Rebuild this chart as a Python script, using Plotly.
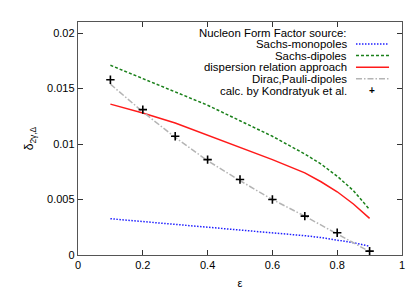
import plotly.graph_objects as go

eps = [0.1, 0.2, 0.3, 0.4, 0.5, 0.6, 0.7, 0.75, 0.8, 0.85, 0.9]
sachs_monopoles = [0.00327, 0.00302, 0.00276, 0.00249, 0.00223, 0.00198, 0.00174, 0.00157, 0.00137, 0.00111, 0.00079]
sachs_dipoles = [0.0171, 0.0159, 0.0147, 0.0135, 0.0121, 0.0107, 0.0091, 0.0082, 0.0071, 0.0058, 0.0041]
dispersion = [0.0136, 0.0128, 0.0119, 0.0108, 0.0097, 0.0086, 0.0074, 0.0066, 0.0057, 0.0046, 0.0033]
dirac_pauli = [0.0154, 0.0129, 0.0106, 0.0085, 0.0067, 0.0050, 0.0035, 0.0027, 0.0019, 0.0011, 0.0003]

kond_eps = [0.1, 0.2, 0.3, 0.4, 0.5, 0.6, 0.7, 0.8, 0.9]
kondratyuk = [0.0158, 0.0131, 0.0107, 0.0086, 0.0068, 0.0050, 0.0035, 0.0020, 0.00035]

legend_title = "Nucleon Form Factor source:"
labels = ["Sachs-monopoles", "Sachs-dipoles", "dispersion relation approach",
          "Dirac,Pauli-dipoles", "calc. by Kondratyuk et al."]
colors = ["#2020ff", "#1a801a", "#ff1a1a", "#b4b4b4", "#000000"]
dashes = ["1.5px,1.5px", "3px,2px", "solid", "6px,2px,1.5px,2px", None]

x_ticks = [0, 0.2, 0.4, 0.6, 0.8, 1]
x_tick_text = ["0", "0.2", "0.4", "0.6", "0.8", "1"]
y_ticks = [0, 0.005, 0.01, 0.015, 0.02]
y_tick_text = ["0", "0.005", "0.01", "0.015", "0.02"]

FONT = "Liberation Sans, Arial, sans-serif"

fig = go.Figure()
series = [sachs_monopoles, sachs_dipoles, dispersion, dirac_pauli]
for vals, lab, col, d in zip(series, labels[:4], colors[:4], dashes[:4]):
    fig.add_trace(go.Scatter(x=eps, y=vals, mode="lines", name=lab,
                             line=dict(color=col, width=1.5, dash=d)))
fig.add_trace(go.Scatter(x=kond_eps, y=kondratyuk, mode="markers", name=labels[4],
                         marker=dict(symbol="cross-thin", size=6, color="black",
                                     line=dict(color="black", width=1.6))))

# custom gnuplot-style legend (text right-aligned, sample on the right)
row_y = [0.954, 0.906, 0.856, 0.806, 0.756, 0.706]
text_x = 0.835
ann = [dict(x=text_x, y=row_y[0], xref="paper", yref="paper", text=legend_title,
            showarrow=False, xanchor="right", yanchor="middle",
            font=dict(size=11.4, family=FONT, color="black"))]
shapes = []
for i, lab in enumerate(labels):
    ann.append(dict(x=text_x, y=row_y[i + 1], xref="paper", yref="paper", text=lab,
                    showarrow=False, xanchor="right", yanchor="middle",
                    font=dict(size=11.4, family=FONT, color="black")))
    if dashes[i] is not None:
        shapes.append(dict(type="line", xref="paper", yref="paper",
                           x0=0.858, x1=0.960, y0=row_y[i + 1], y1=row_y[i + 1],
                           line=dict(color=colors[i], width=1.5, dash=dashes[i])))
    else:
        ann.append(dict(x=0.908, y=row_y[i + 1], xref="paper", yref="paper", text="<b>+</b>",
                        showarrow=False, xanchor="center", yanchor="middle",
                        font=dict(size=10, family=FONT, color="black")))

axis_common = dict(showline=True, linecolor="#555555", linewidth=1.4, mirror="allticks",
                   ticks="inside", ticklen=5, tickwidth=1, tickcolor="#333333",
                   showgrid=False, zeroline=False,
                   tickfont=dict(size=11, family=FONT, color="black"))

fig.update_layout(
    width=415, height=291,
    margin=dict(l=70, r=21, t=14, b=37),
    paper_bgcolor="white", plot_bgcolor="white",
    showlegend=False,
    annotations=ann, shapes=shapes,
    xaxis=dict(range=[0, 1], tickvals=x_ticks, ticktext=x_tick_text,
               title=dict(text="ε", font=dict(size=11, family=FONT, color="black"), standoff=8),
               **axis_common),
    yaxis=dict(range=[0, 0.021], tickvals=y_ticks, ticktext=y_tick_text,
               title=dict(text="δ<sub>2γ,Δ</sub>", font=dict(size=12, family=FONT, color="black"),
                          standoff=10),
               **axis_common),
)

fig.write_html("out.html")
